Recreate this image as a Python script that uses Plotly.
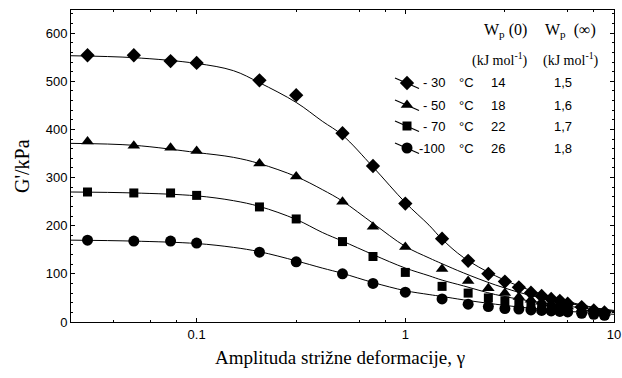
import math
import plotly.graph_objects as go

# ---------------- data ----------------
strain = [0.03, 0.05, 0.075, 0.1, 0.2, 0.3, 0.5, 0.7, 1, 1.5, 2, 2.5, 3, 3.5,
          4, 4.5, 5, 5.5, 6, 7, 8, 9]
g_30 = [554, 554, 542, 538, 502, 471, 392, 324, 246, 173, 127, 100, 84, 72,
        61, 54, 48, 44, 38, 31, 24, 20]
g_50 = [375, 366, 362, 355, 329, 302, 250, 198, 156, 110, 85, 70, 60, 52,
        46, 42, 38, 35, 32, 27, 22, 18]
g_70 = [270, 268, 268, 263, 239, 214, 167, 136, 103, 74, 60, 50, 44, 40,
        36, 33, 31, 29, 27, 23, 19, 16]
g_100 = [170, 168, 168, 164, 145, 125, 100, 80, 62, 48, 37, 32, 28, 27,
         25, 24, 23, 22, 21, 18, 16, 14]

fit_strain = [0.025, 0.05, 0.1, 0.15, 0.2, 0.3, 0.4, 0.5, 0.7, 1, 1.3, 1.5,
              1.9, 2.7, 3.9, 5.7, 8.2, 10]
fit_30 = [553, 549, 537, 522, 497, 456, 417, 388, 322, 248, 201, 172,
          134, 96, 67, 45, 29, 22]
fit_50 = [371, 367, 352, 342, 329, 302, 275, 251, 205, 157, 133, 121,
          102, 77, 56, 41, 29, 24]
fit_70 = [270, 268, 262, 252, 240, 213, 186, 168, 140, 112, 96, 87,
          75, 57, 44, 34, 26, 22]
fit_100 = [170, 168, 163, 155, 146, 127, 112, 101, 82, 65, 57, 53,
           46, 37, 29, 23, 18, 16]

temps = ["- 30", "- 50", "- 70", "-100"]
wp_zero = ["14", "18", "22", "26"]
wp_inf = ["1,5", "1,6", "1,7", "1,8"]

x_ticks = [0.1, 1, 10]
x_ticklabels = ["0.1", "1", "10"]
y_ticks = [0, 100, 200, 300, 400, 500, 600]

# ---------------- styling ----------------
symbols = ["diamond", "triangle-up", "square", "circle"]
sizes = [11, 11, 9, 11]
W, H = 622, 378
L, R, T, B = 71, 8, 10, 56
pw, ph = W - L - R, H - T - B
SANS = "Liberation Sans, Arial, sans-serif"
SERIF = "Liberation Serif, Times New Roman, serif"


def px(x):
    return (x - L) / pw


def py(y):
    return (H - B - y) / ph


fig = go.Figure()

series = [g_30, g_50, g_70, g_100]
fits = [fit_30, fit_50, fit_70, fit_100]
for vals, fvals, sym, sz in zip(series, fits, symbols, sizes):
    fig.add_trace(go.Scatter(x=fit_strain, y=fvals, mode="lines",
                             line=dict(color="black", width=1, shape="spline"),
                             showlegend=False, hoverinfo="skip"))
    fig.add_trace(go.Scatter(x=strain, y=vals, mode="markers",
                             marker=dict(symbol=sym, size=sz, color="black"),
                             showlegend=False))

# ---------------- custom legend ----------------
rows_y = [83, 105, 126, 148]
mark_x = 407
annotations = []
for i, ry in enumerate(rows_y):
    fig.add_trace(go.Scatter(x=[px(mark_x - 12), px(mark_x + 12)],
                             y=[py(ry - 5), py(ry + 5.5)], mode="lines",
                             line=dict(color="black", width=1.2),
                             xaxis="x2", yaxis="y2", showlegend=False,
                             hoverinfo="skip"))
    fig.add_trace(go.Scatter(x=[px(mark_x)], y=[py(ry)], mode="markers",
                             marker=dict(symbol=symbols[i], size=sizes[i],
                                         color="black"),
                             xaxis="x2", yaxis="y2", showlegend=False,
                             hoverinfo="skip"))
    annotations.append(dict(x=px(447), y=py(ry), xref="paper", yref="paper",
                            text=temps[i], showarrow=False, xanchor="right",
                            yanchor="middle", font=dict(family=SANS, size=13)))
    annotations.append(dict(x=px(457), y=py(ry), xref="paper", yref="paper",
                            text="°C", showarrow=False, xanchor="left",
                            yanchor="middle", font=dict(family=SANS, size=13)))
    annotations.append(dict(x=px(498), y=py(ry), xref="paper", yref="paper",
                            text=wp_zero[i], showarrow=False, xanchor="center",
                            yanchor="middle", font=dict(family=SANS, size=13)))
    annotations.append(dict(x=px(563), y=py(ry), xref="paper", yref="paper",
                            text=wp_inf[i], showarrow=False, xanchor="center",
                            yanchor="middle", font=dict(family=SANS, size=13)))

annotations += [
    dict(x=px(505), y=py(31), xref="paper", yref="paper",
         text="W<sub>p</sub> (0)", showarrow=False, xanchor="center",
         yanchor="middle", font=dict(family=SERIF, size=16)),
    dict(x=px(570), y=py(31), xref="paper", yref="paper",
         text="W<sub>p</sub>  (∞)", showarrow=False, xanchor="center",
         yanchor="middle", font=dict(family=SERIF, size=16)),
    dict(x=px(500), y=py(59), xref="paper", yref="paper",
         text="(kJ mol<sup>-1</sup>)", showarrow=False, xanchor="center",
         yanchor="middle", font=dict(family=SERIF, size=14)),
    dict(x=px(571), y=py(59), xref="paper", yref="paper",
         text="(kJ mol<sup>-1</sup>)", showarrow=False, xanchor="center",
         yanchor="middle", font=dict(family=SERIF, size=14)),
    dict(x=px(22), y=py(166), xref="paper", yref="paper", text="G'/kPa",
         textangle=-90, showarrow=False, xanchor="center", yanchor="middle",
         font=dict(family=SERIF, size=20)),
    dict(x=px(340), y=py(357), xref="paper", yref="paper",
         text="Amplituda strižne deformacije, γ", showarrow=False,
         xanchor="center", yanchor="middle", font=dict(family=SERIF, size=19)),
]

axis_common = dict(showline=True, linecolor="black", linewidth=1, mirror="allticks",
                   ticks="inside", ticklen=4, tickcolor="black", showgrid=False,
                   zeroline=False, automargin=False,
                   tickfont=dict(family=SANS, size=13, color="black"))

fig.update_layout(
    width=W, height=H,
    margin=dict(l=L, r=R, t=T, b=B, autoexpand=False),
    paper_bgcolor="white", plot_bgcolor="white",
    font=dict(color="black"),
    showlegend=False,
    xaxis=dict(type="log", range=[math.log10(0.025), 1],
               tickmode="array", tickvals=x_ticks, ticktext=x_ticklabels,
               minor=dict(ticks="inside", ticklen=2, tickcolor="black",
                          tickmode="array",
                          tickvals=[0.04, 0.06, 0.08, 0.3, 0.6, 0.8, 3, 6, 8]),
               **axis_common),
    yaxis=dict(range=[0, 648], tickmode="array", tickvals=y_ticks,
               minor=dict(ticks="inside", ticklen=2, tickcolor="black", dtick=20),
               **axis_common),
    xaxis2=dict(overlaying="x", range=[0, 1], visible=False),
    yaxis2=dict(overlaying="y", range=[0, 1], visible=False),
    annotations=annotations,
)

fig.write_html("out.html")
